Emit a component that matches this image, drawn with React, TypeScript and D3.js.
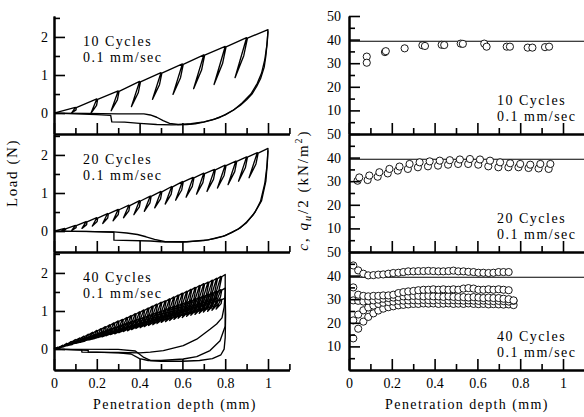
import React, { useEffect, useRef } from "react";
import * as d3 from "d3";

type Pt = [number, number];

// ---------- left column: load (N) vs penetration depth (mm) ----------
const depths10 = [0.1, 0.2, 0.3, 0.4, 0.5, 0.6, 0.7, 0.8, 0.9, 1.0];
const peaks10 = [0.15, 0.37, 0.58, 0.83, 1.06, 1.29, 1.53, 1.75, 1.98, 2.19];
const troughs10 = [0.0, 0.0, 0.06, 0.17, 0.36, 0.49, 0.64, 0.75, 0.93];
const return10a: Pt[] = [[1.0, 2.19], [0.997, 1.9], [0.99, 1.5], [0.982, 1.2], [0.965, 0.9], [0.947, 0.7], [0.925, 0.5], [0.9, 0.35], [0.87, 0.2], [0.838, 0.08], [0.8, -0.04], [0.776, -0.11], [0.74, -0.18], [0.7, -0.24], [0.66, -0.28], [0.62, -0.3], [0.55, -0.31], [0.48, -0.3], [0.4, -0.27], [0.33, -0.24], [0.27, -0.23], [0.265, -0.06], [0.2, -0.04], [0.1, -0.02], [0, 0]];
const return10b: Pt[] = [[1.0, 2.15], [0.995, 1.8], [0.985, 1.4], [0.97, 1.05], [0.95, 0.78], [0.92, 0.5], [0.88, 0.27], [0.84, 0.08], [0.8, -0.05], [0.75, -0.16], [0.7, -0.23], [0.64, -0.28], [0.58, -0.3], [0.54, -0.27], [0.51, -0.2], [0.48, -0.11], [0.45, -0.05], [0.42, -0.02], [0.3, -0.02], [0.15, -0.01], [0, 0]];

const depths20 = [0.05, 0.1, 0.15, 0.2, 0.25, 0.3, 0.35, 0.4, 0.45, 0.5, 0.55, 0.6, 0.65, 0.7, 0.75, 0.8, 0.85, 0.9, 0.95, 1.0];
const peaks20 = [0.07, 0.15, 0.25, 0.35, 0.46, 0.57, 0.68, 0.8, 0.92, 1.04, 1.17, 1.3, 1.41, 1.52, 1.62, 1.73, 1.84, 1.95, 2.06, 2.17];
const troughs20 = [0.0, 0.02, 0.07, 0.13, 0.2, 0.27, 0.35, 0.43, 0.52, 0.61, 0.71, 0.81, 0.89, 0.97, 1.04, 1.13, 1.22, 1.31, 1.4];
const return20a: Pt[] = [[1.0, 2.17], [0.997, 1.8], [0.99, 1.31], [0.97, 0.8], [0.95, 0.6], [0.93, 0.42], [0.9, 0.24], [0.87, 0.08], [0.83, -0.04], [0.79, -0.14], [0.75, -0.2], [0.7, -0.25], [0.6, -0.29], [0.5, -0.28], [0.45, -0.26], [0.28, -0.24], [0.28, -0.03], [0.15, -0.01], [0, 0]];
const return20b: Pt[] = [[1.0, 2.12], [0.995, 1.7], [0.985, 1.25], [0.965, 0.78], [0.94, 0.5], [0.9, 0.22], [0.86, 0.05], [0.8, -0.12], [0.72, -0.23], [0.62, -0.28], [0.52, -0.28], [0.47, -0.22], [0.43, -0.15], [0.39, -0.09], [0.34, -0.05], [0.28, -0.02], [0, 0]];

const depths40 = [0.02, 0.04, 0.06, 0.08, 0.1, 0.12, 0.14, 0.16, 0.18, 0.2, 0.22, 0.24, 0.26, 0.28, 0.3, 0.32, 0.34, 0.36, 0.38, 0.4, 0.42, 0.44, 0.46, 0.48, 0.5, 0.52, 0.54, 0.56, 0.58, 0.6, 0.62, 0.64, 0.66, 0.68, 0.7, 0.72, 0.74, 0.76, 0.78, 0.8];
const peaks40a = [0.05, 0.1, 0.15, 0.2, 0.25, 0.29, 0.34, 0.39, 0.44, 0.49, 0.54, 0.59, 0.64, 0.69, 0.74, 0.78, 0.83, 0.88, 0.93, 0.98, 1.03, 1.08, 1.13, 1.18, 1.23, 1.27, 1.32, 1.37, 1.42, 1.47, 1.52, 1.57, 1.62, 1.67, 1.72, 1.76, 1.81, 1.86, 1.91, 1.96];
const troughs40a = [0.01, 0.04, 0.07, 0.1, 0.13, 0.16, 0.19, 0.22, 0.25, 0.27, 0.3, 0.33, 0.36, 0.39, 0.41, 0.44, 0.46, 0.49, 0.52, 0.55, 0.58, 0.6, 0.63, 0.66, 0.69, 0.71, 0.74, 0.77, 0.8, 0.82, 0.85, 0.88, 0.91, 0.94, 0.96, 0.99, 1.01, 1.04, 1.07];
const peaks40b = [0.04, 0.08, 0.12, 0.16, 0.2, 0.24, 0.28, 0.32, 0.36, 0.4, 0.44, 0.48, 0.52, 0.56, 0.6, 0.64, 0.68, 0.72, 0.76, 0.8, 0.84, 0.88, 0.92, 0.96, 1.0, 1.04, 1.08, 1.12, 1.16, 1.2, 1.24, 1.28, 1.32, 1.36, 1.4, 1.44, 1.48, 1.52, 1.56, 1.6];
const troughs40b = [0.03, 0.06, 0.09, 0.12, 0.14, 0.17, 0.2, 0.23, 0.26, 0.29, 0.32, 0.35, 0.37, 0.4, 0.43, 0.46, 0.49, 0.52, 0.55, 0.58, 0.6, 0.63, 0.66, 0.69, 0.72, 0.75, 0.78, 0.81, 0.84, 0.86, 0.89, 0.92, 0.95, 0.98, 1.01, 1.04, 1.07, 1.09, 1.12];
const peaks40c = [0.03, 0.07, 0.1, 0.13, 0.17, 0.2, 0.23, 0.27, 0.3, 0.34, 0.37, 0.4, 0.44, 0.47, 0.5, 0.54, 0.57, 0.6, 0.64, 0.67, 0.7, 0.74, 0.77, 0.8, 0.84, 0.87, 0.9, 0.94, 0.97, 1.01, 1.04, 1.07, 1.11, 1.14, 1.17, 1.21, 1.24, 1.27, 1.31, 1.34];
const troughs40c = [0.02, 0.06, 0.08, 0.1, 0.14, 0.16, 0.18, 0.22, 0.24, 0.27, 0.3, 0.32, 0.35, 0.38, 0.4, 0.43, 0.46, 0.48, 0.51, 0.54, 0.56, 0.59, 0.62, 0.64, 0.67, 0.7, 0.72, 0.75, 0.78, 0.81, 0.83, 0.86, 0.89, 0.91, 0.94, 0.97, 0.99, 1.02, 1.05];
const return40a: Pt[] = [[0.8, 1.96], [0.8, 1.5], [0.795, 1.1], [0.785, 0.82], [0.76, 0.66], [0.729, 0.52], [0.667, 0.26], [0.604, 0.09], [0.511, -0.04], [0.45, -0.08], [0.4, -0.1], [0.3, -0.09], [0.13, -0.08], [0.13, -0.02], [0, 0]];
const return40b: Pt[] = [[0.8, 1.6], [0.8, 1.0], [0.8, 0.6], [0.776, 0.22], [0.729, -0.04], [0.667, -0.2], [0.604, -0.26], [0.5, -0.3], [0.44, -0.3], [0.4, -0.25], [0.36, -0.13], [0.3, -0.1], [0.2, -0.08], [0.16, -0.08], [0.16, -0.03], [0, 0]];
const return40c: Pt[] = [[0.8, 1.34], [0.802, 0.9], [0.8, 0.3], [0.795, 0.0], [0.78, -0.15], [0.74, -0.25], [0.68, -0.3], [0.6, -0.32], [0.5, -0.32], [0.45, -0.3], [0.42, -0.22], [0.38, -0.05], [0.3, -0.01], [0, 0]];

// ---------- right column: c, qu/2 (kN/m2) vs penetration depth ----------
const cDepth10 = [0.083, 0.083, 0.168, 0.172, 0.26, 0.343, 0.355, 0.433, 0.445, 0.522, 0.532, 0.632, 0.643, 0.737, 0.752, 0.835, 0.857, 0.916, 0.935];
const cValue10 = [32.8, 30.2, 34.7, 35.1, 36.3, 37.6, 37.3, 37.8, 37.7, 38.3, 38.2, 38.3, 37.0, 37.0, 37.0, 36.6, 36.6, 36.8, 37.0];

const cDepth20 = [0.04, 0.087, 0.134, 0.181, 0.228, 0.275, 0.322, 0.369, 0.416, 0.463, 0.51, 0.557, 0.604, 0.651, 0.698, 0.745, 0.792, 0.839, 0.886, 0.933];
const cLow20 = [30.2, 30.5, 31.9, 33.3, 34.5, 35.2, 35.9, 36.3, 36.6, 37.0, 37.3, 37.3, 37.0, 36.3, 35.9, 35.9, 35.9, 35.6, 35.4, 35.2];
const cHigh20 = [31.6, 32.4, 33.8, 35.2, 36.2, 37.3, 38.0, 38.4, 38.7, 38.9, 39.2, 39.4, 39.2, 38.7, 38.0, 37.6, 37.3, 37.0, 37.3, 37.3];

const cDepth40 = [0.02, 0.043, 0.067, 0.09, 0.114, 0.137, 0.16, 0.184, 0.207, 0.231, 0.254, 0.277, 0.301, 0.324, 0.348, 0.371, 0.394, 0.418, 0.441, 0.465, 0.488, 0.511, 0.535, 0.558, 0.582, 0.605, 0.628, 0.652, 0.675, 0.699, 0.722, 0.746, 0.769];
const c40s1 = [44.3, 42.2, 40.8, 40.1, 40.2, 40.4, 40.5, 40.8, 41.1, 41.2, 41.5, 41.8, 41.8, 41.9, 41.9, 42.0, 41.9, 41.8, 41.8, 41.9, 42.1, 41.8, 41.8, 41.6, 41.5, 41.2, 41.2, 41.1, 41.2, 41.5, 41.5, 41.5];
const c40s2 = [35.0, 31.9, 31.4, 31.2, 31.4, 31.4, 31.6, 31.6, 31.9, 32.6, 33.0, 33.3, 33.5, 33.8, 34.0, 34.0, 34.2, 34.0, 34.2, 34.0, 34.2, 34.0, 34.5, 34.7, 34.5, 34.0, 34.0, 34.2, 34.0, 34.2, 34.0, 33.8];
const c40s3 = [29.5, 29.3, 29.0, 29.3, 29.5, 29.8, 30.2, 30.5, 30.7, 30.9, 31.2, 31.2, 31.4, 31.4, 31.2, 31.4, 31.2, 31.2, 31.0, 31.2, 31.0, 30.9, 30.9, 30.7, 30.9, 30.7, 30.5, 30.7, 30.5, 30.5, 30.2, 30.0, 29.5];
const c40s4 = [13.4, 17.5, 20.5, 22.5, 24.0, 25.2, 26.0, 26.6, 27.0, 27.4, 27.6, 27.8, 28.0, 28.0, 28.2, 28.1, 28.2, 28.0, 28.1, 28.2, 28.0, 28.1, 28.0, 28.2, 28.0, 27.9, 28.0, 27.8, 27.9, 27.8, 27.7, 27.8, 27.5];
const c40s5 = [21.0, 23.5, 25.3, 26.5, 27.3, 28.0, 28.5, 28.8, 29.0, 29.3, 29.4, 29.5, 29.6, 29.5, 29.7, 29.6, 29.5, 29.7, 29.6, 29.5, 29.6, 29.5, 29.4, 29.5, 29.4, 29.3, 29.4, 29.3, 29.2, 29.3, 29.2, 29.0, 29.3];

const refC = 39.3;

const cycleLabels = ["10 Cycles", "20 Cycles", "40 Cycles"];
const rateLabel = "0.1 mm/sec";
const loadMajor = [0, 1, 2];
const loadMinor = [0.5, 1.5, 2.5];
const cMajor = [10, 20, 30, 40, 50];
const cMinor = [5, 15, 25, 35, 45];
const depthMajor = [0, 0.2, 0.4, 0.6, 0.8, 1];
const depthMinor = [0.1, 0.3, 0.5, 0.7, 0.9, 1.1];

// ---------- layout ----------
const W = 584, H = 417;
const leftAxisX = 54;
const rightAxisX = 349;
const pxPerMm = 214;
const panelTops = [16, 134, 252];
const panelH = 118;
const FONT = "'Liberation Serif', 'Times New Roman', serif";

// loading path with an unload/reload sliver at each cycle peak, then the final return
function hysteresis(depths: number[], peaks: number[], troughs: number[], ret: Pt[]): Pt[] {
  const pts: Pt[] = [[0, 0]];
  depths.forEach((d, i) => {
    pts.push([d, peaks[i]]);
    if (i < troughs.length) {
      const drop = peaks[i] - troughs[i];
      const back = 0.012 + 0.04 * drop;
      pts.push([d - back, troughs[i]]);
      pts.push([d - back * 0.45 + 0.011, troughs[i] + drop * 0.55]);
      pts.push([d + 0.004, peaks[i] - 0.01]);
    }
  });
  return pts.concat(ret);
}

const loadPanels = [
  { paths: [hysteresis(depths10, peaks10, troughs10, return10a), return10b] },
  { paths: [hysteresis(depths20, peaks20, troughs20, return20a), return20b] },
  {
    paths: [
      hysteresis(depths40, peaks40a, troughs40a, return40a),
      hysteresis(depths40, peaks40b, troughs40b, return40b),
      hysteresis(depths40, peaks40c, troughs40c, return40c),
    ],
  },
];

const cPanels = [
  { series: [{ xs: cDepth10, ys: cValue10 }] },
  { series: [{ xs: cDepth20, ys: cLow20 }, { xs: cDepth20.map(d => d + 0.008), ys: cHigh20 }] },
  {
    series: [
      { xs: cDepth40, ys: c40s4 },
      { xs: cDepth40, ys: c40s5 },
      { xs: cDepth40, ys: c40s3 },
      { xs: cDepth40, ys: c40s2 },
      { xs: cDepth40, ys: c40s1 },
    ],
  },
];

function drawAxes(g: any, x: any, y: any, yMajor: number[], yMinor: number[], yPad: number, showX: boolean, bottom: number) {
  const left = x.range()[0];
  const styleAxis = (a: any) => {
    a.select(".domain").attr("stroke", "#000").attr("stroke-width", 2);
    a.selectAll(".tick line").attr("stroke", "#000").attr("stroke-width", 1.6);
    a.selectAll("text").attr("fill", "#000");
    a.attr("font-family", FONT).attr("font-size", 14);
  };
  g.append("g").attr("transform", `translate(${left},0)`)
    .call(d3.axisLeft(y).tickValues(yMinor).tickSize(-6).tickSizeOuter(0).tickFormat(() => ""))
    .call(styleAxis);
  g.append("g").attr("transform", `translate(${left},0)`)
    .call(d3.axisLeft(y).tickValues(yMajor).tickSize(-11).tickSizeOuter(0).tickPadding(yPad).tickFormat(d3.format("d")))
    .call(styleAxis);
  g.append("g").attr("transform", `translate(0,${bottom})`)
    .call(d3.axisBottom(x).tickValues(depthMinor).tickSize(-6).tickSizeOuter(0).tickFormat(() => ""))
    .call(styleAxis);
  g.append("g").attr("transform", `translate(0,${bottom})`)
    .call(d3.axisBottom(x).tickValues(depthMajor).tickSize(-11).tickSizeOuter(0).tickPadding(8)
      .tickFormat(showX ? (d: any) => String(d) : () => ""))
    .call(styleAxis);
}

function addPanelText(g: any, x0: number, y0: number, label: string) {
  [label, rateLabel].forEach((t, i) => {
    g.append("text").attr("x", x0).attr("y", y0 + i * 15.5)
      .attr("font-family", FONT).attr("font-size", 14).attr("letter-spacing", 1.5)
      .attr("fill", "#000").text(t);
  });
}

export default function App() {
  const ref = useRef<SVGSVGElement>(null);

  useEffect(() => {
    const svg = d3.select(ref.current);
    svg.selectAll("*").remove();
    svg.append("rect").attr("width", W).attr("height", H).attr("fill", "#fff");

    const xL = d3.scaleLinear().domain([0, 1.1]).range([leftAxisX, leftAxisX + 1.1 * pxPerMm]);
    const xR = d3.scaleLinear().domain([0, 1.1]).range([rightAxisX, rightAxisX + 1.1 * pxPerMm]);

    loadPanels.forEach((p, i) => {
      const top = panelTops[i];
      const bottom = top + panelH;
      const y = d3.scaleLinear().domain([-0.55, 2.55]).range([bottom, top]);
      const g = svg.append("g");
      const line = d3.line<Pt>().x(d => xL(d[0])).y(d => y(d[1]));
      p.paths.forEach(pts => {
        g.append("path").attr("d", line(pts)).attr("fill", "none")
          .attr("stroke", "#000").attr("stroke-width", 1.35).attr("stroke-linejoin", "round");
      });
      drawAxes(g, xL, y, loadMajor, loadMinor, 6, i === 2, bottom);
      addPanelText(g, 83, top + 30, cycleLabels[i]);
    });

    cPanels.forEach((p, i) => {
      const top = panelTops[i];
      const bottom = top + panelH;
      const y = d3.scaleLinear().domain([0, 50]).range([bottom, top]);
      const g = svg.append("g");
      g.append("line").attr("x1", rightAxisX).attr("x2", W).attr("y1", y(refC)).attr("y2", y(refC))
        .attr("stroke", "#000").attr("stroke-width", 1.1);
      p.series.forEach(s => {
        g.selectAll(null).data(s.ys).enter().append("circle")
          .attr("cx", (_: number, k: number) => xR(s.xs[k]))
          .attr("cy", (v: number) => y(v))
          .attr("r", 3.6).attr("fill", "#fff").attr("stroke", "#000").attr("stroke-width", 0.9);
      });
      drawAxes(g, xR, y, cMajor, cMinor, 8, i === 2, bottom);
      addPanelText(g, 497, top + 89, cycleLabels[i]);
    });

    // axis titles
    [175, 467].forEach(cx => {
      svg.append("text").attr("x", cx).attr("y", 409).attr("text-anchor", "middle")
        .attr("font-family", FONT).attr("font-size", 14).attr("letter-spacing", 1.4)
        .attr("fill", "#000").text("Penetration depth (mm)");
    });
    svg.append("text").attr("transform", "translate(17,173) rotate(-90)").attr("text-anchor", "middle")
      .attr("font-family", FONT).attr("font-size", 15).attr("letter-spacing", 1.6)
      .attr("fill", "#000").text("Load (N)");

    const t = svg.append("text").attr("transform", "translate(308,190) rotate(-90)").attr("text-anchor", "middle")
      .attr("font-family", FONT).attr("font-size", 15).attr("letter-spacing", 2).attr("fill", "#000");
    t.append("tspan").attr("font-style", "italic").text("c");
    t.append("tspan").text(", ");
    t.append("tspan").attr("font-style", "italic").text("q");
    t.append("tspan").attr("font-style", "italic").attr("font-size", 10).attr("dy", 3).text("u");
    t.append("tspan").attr("dy", -3).text("/2 (kN/m");
    t.append("tspan").attr("font-size", 10).attr("dy", -6).text("2");
    t.append("tspan").attr("dy", 6).text(")");
  }, []);

  return (
    <svg ref={ref} width={W} height={H}
      style={{ position: "absolute", left: 0, top: 0, display: "block" }} />
  );
}
